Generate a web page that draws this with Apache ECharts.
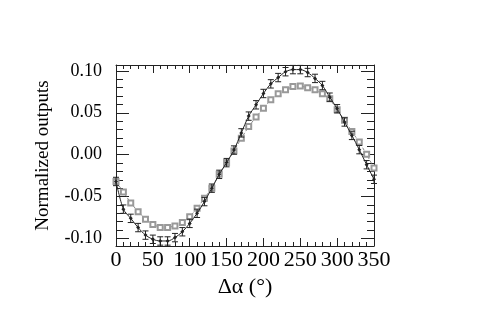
<!DOCTYPE html>
<html><head><meta charset="utf-8">
<script src="https://cdn.jsdelivr.net/npm/echarts@6/dist/echarts.min.js"></script>
<style>html,body{margin:0;padding:0;background:#fff}#c{width:491px;height:310px}</style>
</head><body><div id="c"></div>
<script>
var angles = [0,10,20,30,40,50,60,70,80,90,100,110,120,130,140,150,160,170,180,190,200,210,220,230,240,250,260,270,280,290,300,310,320,330,340,350];
var seriesA = [-0.032,-0.065,-0.076,-0.087,-0.096,-0.101,-0.103,-0.103,-0.099,-0.092,-0.082,-0.070,-0.056,-0.040,-0.0235,-0.0095,0.0055,0.026,0.046,0.0595,0.073,0.0845,0.092,0.099,0.1015,0.1015,0.098,0.091,0.0825,0.0686,0.0548,0.039,0.023,0.006,-0.012,-0.0294];
var seriesB = [-0.032,-0.0445,-0.0576,-0.068,-0.077,-0.0833,-0.087,-0.087,-0.085,-0.081,-0.074,-0.064,-0.052,-0.040,-0.0235,-0.0095,0.0045,0.0195,0.0335,0.045,0.0555,0.0655,0.0726,0.0774,0.0813,0.082,0.080,0.0774,0.0726,0.0667,0.0536,0.041,0.0277,0.015,0.0004,-0.016];
var errA = 0.005;
var errB = 0.002;
var xMajor = [0,50,100,150,200,250,300,350];
var xMinor = [10,20,30,40,60,70,80,90,110,120,130,140,160,170,180,190,210,220,230,240,260,270,280,290,310,320,330,340];
var yMajor = [-0.10,-0.05,0.00,0.05,0.10];
var yMinor = [-0.09,-0.08,-0.07,-0.06,-0.04,-0.03,-0.02,-0.01,0.01,0.02,0.03,0.04,0.06,0.07,0.08,0.09];

var serif = 'Liberation Serif';
var frame = '#222';
function pairs(ys){return angles.map(function(a,i){return [a, ys[i]];});}
function errData(ys,e){return angles.map(function(a,i){return [a, ys[i]-e, ys[i]+e];});}
function errRender(color){
  return function(params, api){
    var x = api.value(0);
    var lo = api.coord([x, api.value(1)]);
    var hi = api.coord([x, api.value(2)]);
    var w = 3;
    var st = {stroke: color, lineWidth: 1};
    return {type:'group', children:[
      {type:'line', shape:{x1:lo[0],y1:lo[1],x2:hi[0],y2:hi[1]}, style:st},
      {type:'line', shape:{x1:lo[0]-w,y1:lo[1],x2:lo[0]+w,y2:lo[1]}, style:st},
      {type:'line', shape:{x1:hi[0]-w,y1:hi[1],x2:hi[0]+w,y2:hi[1]}, style:st}
    ]};
  };
}
var XMIN=0, XMAX=350, YMIN=-0.109, YMAX=0.107;
function xAx(pos, vals, len, labels, line){
  return {type:'value', position:pos, min:XMIN, max:XMAX, splitLine:{show:false},
    axisLine:{show:line, onZero:false, lineStyle:{color:frame,width:1}},
    axisTick:{show:true, inside:true, length:len, customValues:vals, lineStyle:{color:frame,width:1}},
    axisLabel:{show:labels, customValues:vals, fontFamily:serif, fontSize:22, color:'#000', margin:3},
    name: labels ? 'Δα (°)' : '', nameLocation:'middle', nameGap:28,
    nameTextStyle:{fontFamily:serif, fontSize:22, color:'#000'}};
}
function yAx(pos, vals, len, labels, line){
  return {type:'value', position:pos, min:YMIN, max:YMAX, splitLine:{show:false},
    axisLine:{show:line, onZero:false, lineStyle:{color:frame,width:1}},
    axisTick:{show:true, inside:true, length:len, customValues:vals, lineStyle:{color:frame,width:1}},
    axisLabel:{show:labels, customValues:vals, fontFamily:serif, fontSize:18, color:'#000', margin:14,
      formatter:function(v){return v.toFixed(2);}},
    name: labels ? 'Normalized outputs' : '', nameLocation:'middle', nameGap:63,
    nameTextStyle:{fontFamily:serif, fontSize:19, color:'#000'}};
}
var chart = echarts.init(document.getElementById('c'), null, {renderer:'canvas'});
chart.setOption({
  animation:false,
  grid:{left:116, right:117, top:65, bottom:64},
  xAxis:[xAx('bottom', xMajor, 8, true, true), xAx('bottom', xMinor, 4, false, false),
         xAx('top', xMajor, 8, false, true), xAx('top', xMinor, 4, false, false)],
  yAxis:[yAx('left', yMajor, 13, true, true), yAx('left', yMinor, 7, false, false),
         yAx('right', yMajor, 13, false, true), yAx('right', yMinor, 7, false, false)],
  series:[
    {type:'custom', xAxisIndex:0, yAxisIndex:0, renderItem:errRender('#999'), data:errData(seriesB, errB), z:2},
    {type:'line', xAxisIndex:0, yAxisIndex:0, data:pairs(seriesB), symbol:'emptyRect', symbolSize:5,
      lineStyle:{color:'#888', width:1, type:[3,2]}, itemStyle:{color:'#999', borderWidth:0.8}, z:3},
    {type:'custom', xAxisIndex:0, yAxisIndex:0, renderItem:errRender('#222'), data:errData(seriesA, errA), z:4},
    {type:'line', xAxisIndex:0, yAxisIndex:0, data:pairs(seriesA), symbol:'diamond', symbolSize:4, smooth:0.3,
      lineStyle:{color:'#222', width:1}, itemStyle:{color:'#222'}, z:5}
  ]
});
</script></body></html>
